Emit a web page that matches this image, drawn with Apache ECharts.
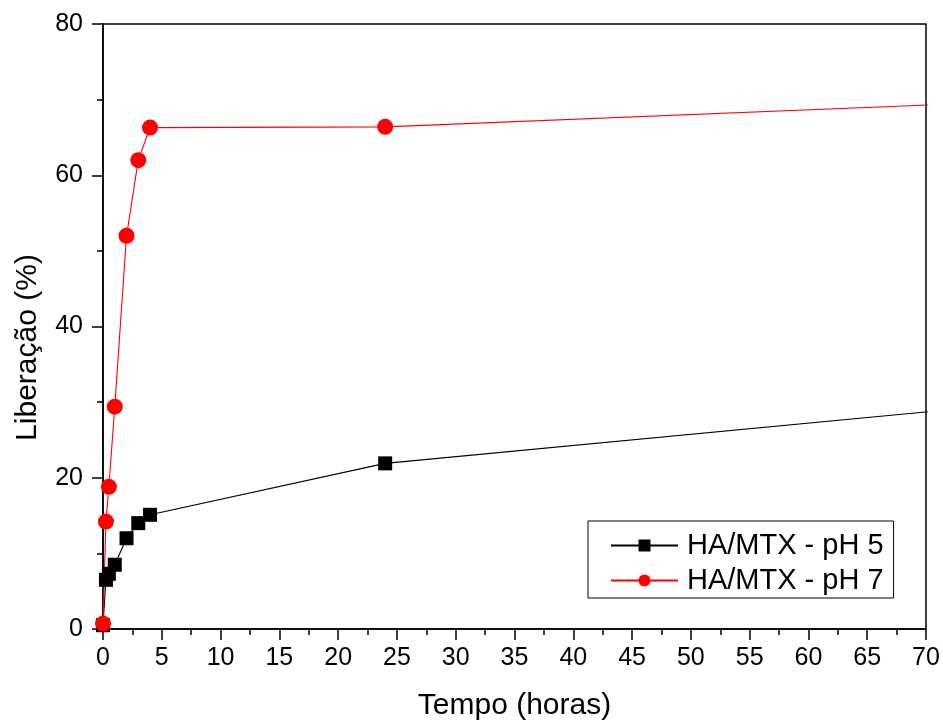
<!DOCTYPE html>
<html>
<head>
<meta charset="utf-8">
<script src="https://cdn.jsdelivr.net/npm/echarts@6/dist/echarts.min.js"></script>
<style>
html,body{margin:0;padding:0;background:#fff;}
#main{width:943px;height:721px;}
</style>
</head>
<body>
<div id="main"></div>
<script>
// tempo (horas) - ultimo ponto fica fora do eixo (72 h), cortado no 70
var tempo = [0, 0.25, 0.5, 1, 2, 3, 4, 24, 72];
var ph5 = [0.5, 6.5, 7.3, 8.5, 12.0, 14.0, 15.1, 21.9, 29.0];
var ph7 = [0.7, 14.2, 18.8, 29.4, 52.0, 62.0, 66.3, 66.4, 69.4];
var nomes = ['HA/MTX - pH 5', 'HA/MTX - pH 7'];

function pares(x, y){
    var r = [];
    for (var i = 0; i < x.length; i++) r.push([x[i], y[i]]);
    return r;
}

var fonte = 'Liberation Sans, Arial, sans-serif';
var grafico = echarts.init(document.getElementById('main'));
grafico.setOption({
    animation: false,
    backgroundColor: '#fff',
    grid: {
        left: 103, right: 17, top: 24, bottom: 92,
        outerBoundsMode: 'none',
        containLabel: false,
        show: true, borderColor: '#000', borderWidth: 1.5
    },
    legend: {
        left: 588, top: 521,
        orient: 'vertical',
        borderColor: '#000', borderWidth: 1,
        borderRadius: 0,
        padding: [10, 10, 3, 22],
        itemGap: 6,
        itemWidth: 67, itemHeight: 15,
        textStyle: {fontFamily: fonte, fontSize: 29, color: '#000', padding: [0, 0, 0, 4]},
        data: nomes
    },
    xAxis: {
        type: 'value',
        min: 0, max: 70, interval: 5,
        name: 'Tempo (horas)',
        nameLocation: 'middle',
        nameGap: 62,
        nameTextStyle: {fontFamily: fonte, fontSize: 30, color: '#000'},
        axisLine: {lineStyle: {color: '#000', width: 1.5}},
        axisTick: {inside: false, length: 11, lineStyle: {color: '#000', width: 1.5}},
        minorTick: {show: true, splitNumber: 2, length: 6, lineStyle: {color: '#000', width: 1.5}},
        axisLabel: {fontFamily: fonte, fontSize: 25, color: '#000', margin: 17},
        splitLine: {show: false}
    },
    yAxis: {
        type: 'value',
        min: 0, max: 80, interval: 20,
        name: 'Liberação (%)',
        nameLocation: 'middle',
        nameGap: 60,
        nameTextStyle: {fontFamily: fonte, fontSize: 30, color: '#000', padding: [0, 42, 0, 0]},
        axisLine: {lineStyle: {color: '#000', width: 1.5}},
        axisTick: {inside: false, length: 11, lineStyle: {color: '#000', width: 1.5}},
        minorTick: {show: true, splitNumber: 2, length: 6, lineStyle: {color: '#000', width: 1.5}},
        axisLabel: {fontFamily: fonte, fontSize: 25, color: '#000', margin: 20},
        splitLine: {show: false}
    },
    series: [
        {
            name: nomes[0],
            type: 'line',
            clip: true,
            data: pares(tempo, ph5),
            symbol: 'rect',
            symbolSize: 14,
            itemStyle: {color: '#000'},
            lineStyle: {color: '#000', width: 1.1}
        },
        {
            name: nomes[1],
            type: 'line',
            clip: true,
            data: pares(tempo, ph7),
            symbol: 'circle',
            symbolSize: 16,
            itemStyle: {color: '#ff0000'},
            lineStyle: {color: '#ff0000', width: 1.1}
        }
    ]
});
</script>
</body>
</html>
